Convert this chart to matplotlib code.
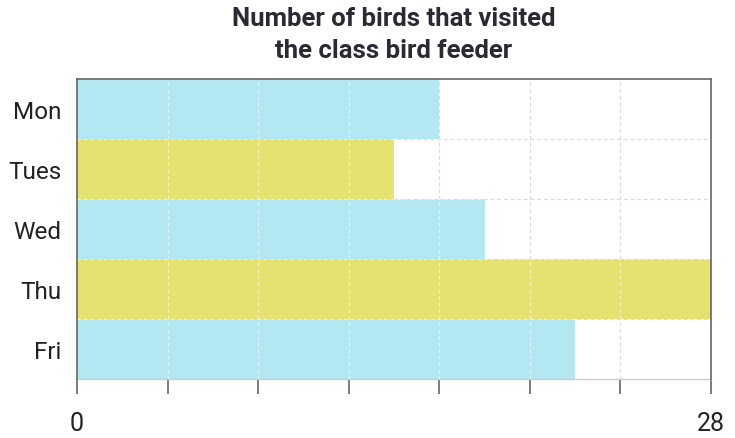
import matplotlib.pyplot as plt

# data
days = ["Mon", "Tues", "Wed", "Thu", "Fri"]
birds = [16, 14, 18, 28, 22]
bar_colors = ["#b3e8f2", "#e6e270", "#b3e8f2", "#e6e270", "#b3e8f2"]
x_ticks = [0, 4, 8, 12, 16, 20, 24, 28]
x_labels = ["0", "", "", "", "", "", "", "28"]

plt.rcParams['font.family'] = ['Roboto', 'DejaVu Sans']

fig = plt.figure(figsize=(7.35, 4.39), dpi=100)
ax = fig.add_axes([77 / 735, 1 - 380 / 439, (711 - 77) / 735, (380 - 80) / 439])

ypos = list(range(len(days)))
ax.barh(ypos, birds, height=1.0, color=bar_colors, zorder=2)

ax.set_xlim(0, 28)
ax.set_ylim(len(days) - 0.5, -0.5)

ax.set_xticks(x_ticks)
ax.set_xticklabels(x_labels)
ax.set_yticks(ypos)
ax.set_yticklabels(days)
bounds = [i + 0.5 for i in ypos[:-1]]
ax.set_yticks(bounds, minor=True)

# gray dashed grid under the bars, light dashes over them
ax.grid(True, which='major', axis='x', color='#aaaaaa', linestyle=(0, (3, 3)), lw=0.8, zorder=1)
ax.grid(True, which='minor', axis='y', color='#aaaaaa', linestyle=(0, (3, 3)), lw=0.8, zorder=1)
ax.set_axisbelow(True)
for t in x_ticks[1:-1]:
    ax.axvline(t, color='white', linestyle=(0, (3, 3)), lw=0.8, alpha=0.6, zorder=3)
for b in bounds:
    ax.axhline(b, color='white', linestyle=(0, (3, 3)), lw=0.8, alpha=0.6, zorder=3)

ax.tick_params(axis='x', which='major', direction='out', length=11, width=1.2,
               color='#666666', pad=12, labelsize=18, labelcolor='#222222')
ax.tick_params(axis='y', which='both', length=0, pad=11, labelsize=17.5, labelcolor='#222222')

for side in ['top', 'left', 'right']:
    ax.spines[side].set_color('#666666')
    ax.spines[side].set_linewidth(1.2)
    ax.spines[side].set_zorder(4)
ax.spines['bottom'].set_color('#cccccc')
ax.spines['bottom'].set_linewidth(1.0)

fig.text(394 / 735, 1 - 35 / 439, "Number of birds that visited\nthe class bird feeder",
         ha='center', va='center', fontsize=18.5, fontweight='bold', color='#2a2a33',
         linespacing=1.4)

plt.savefig('out.png', dpi=100)
